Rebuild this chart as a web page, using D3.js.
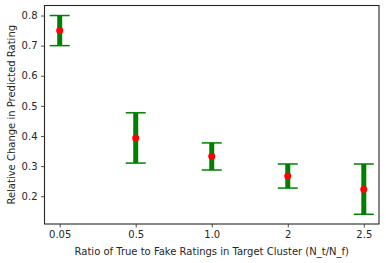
<!DOCTYPE html>
<html>
<head>
<meta charset="utf-8">
<script src="https://cdn.jsdelivr.net/npm/d3@7"></script>
<style>
  body { margin: 0; background: #fff; }
  text { font-family: "DejaVu Sans", sans-serif; fill: #262626; }
</style>
</head>
<body>
<div id="chart"></div>
<script>
const categories = ["0.05", "0.5", "1.0", "2", "2.5"];
const means = [0.75, 0.393, 0.333, 0.267, 0.223];
const lowers = [0.70, 0.31, 0.287, 0.227, 0.14];
const uppers = [0.80, 0.477, 0.377, 0.307, 0.307];
const yTicks = [0.2, 0.3, 0.4, 0.5, 0.6, 0.7, 0.8];

const data = categories.map((c, i) => ({ cat: c, mean: means[i], lo: lowers[i], hi: uppers[i] }));

const W = 386, H = 263;
const margin = { top: 5.5, right: 7, bottom: 39, left: 44.5 };
const width = W - margin.left - margin.right;
const height = H - margin.top - margin.bottom;

const svg = d3.select("#chart").append("svg")
    .attr("width", W)
    .attr("height", H);

const g = svg.append("g")
    .attr("transform", "translate(" + margin.left + "," + margin.top + ")");

// 4 intervals + 0.2 margin on each side (matplotlib default)
const unit = width / 4.4;
const xScale = d3.scalePoint()
    .domain(categories)
    .range([0.2 * unit, width - 0.2 * unit]);

const yScale = d3.scaleLinear()
    .domain([0.1077, 0.8333])
    .range([height, 0]);

// error bars
const bars = g.selectAll(".err")
    .data(data)
    .enter()
    .append("g")
    .attr("class", "err");

bars.append("line")
    .attr("x1", d => xScale(d.cat))
    .attr("x2", d => xScale(d.cat))
    .attr("y1", d => yScale(d.lo))
    .attr("y2", d => yScale(d.hi))
    .attr("stroke", "#008000")
    .attr("stroke-width", 5);

bars.selectAll(".cap")
    .data(d => [{ x: d.cat, v: d.lo }, { x: d.cat, v: d.hi }])
    .enter()
    .append("line")
    .attr("class", "cap")
    .attr("x1", d => xScale(d.x) - 10)
    .attr("x2", d => xScale(d.x) + 10)
    .attr("y1", d => yScale(d.v))
    .attr("y2", d => yScale(d.v))
    .attr("stroke", "#008000")
    .attr("stroke-width", 1.5);

bars.append("circle")
    .attr("cx", d => xScale(d.cat))
    .attr("cy", d => yScale(d.mean))
    .attr("r", 3.5)
    .attr("fill", "#ff0000");

// axes
const xAxis = g.append("g")
    .attr("transform", "translate(0," + height + ")")
    .call(d3.axisBottom(xScale).tickSize(3.5).tickPadding(3.5));

const yAxis = g.append("g")
    .call(d3.axisLeft(yScale).tickValues(yTicks).tickFormat(d3.format(".1f")).tickSize(3.5).tickPadding(3.5));

[xAxis, yAxis].forEach(a => {
    a.select(".domain").remove();
    a.selectAll("line").attr("stroke", "#262626").attr("stroke-width", 0.8);
    a.selectAll("text").style("font-size", "10px").attr("fill", "#262626");
});

// frame
g.append("rect")
    .attr("x", 0)
    .attr("y", 0)
    .attr("width", width)
    .attr("height", height)
    .attr("fill", "none")
    .attr("stroke", "#262626")
    .attr("stroke-width", 1.1);

// labels
svg.append("text")
    .attr("x", margin.left + width / 2)
    .attr("y", 255)
    .attr("text-anchor", "middle")
    .style("font-size", "10px")
    .text("Ratio of True to Fake Ratings in Target Cluster (N_t/N_f)");

svg.append("text")
    .attr("transform", "rotate(-90)")
    .attr("x", -(margin.top + height / 2))
    .attr("y", 15)
    .attr("text-anchor", "middle")
    .style("font-size", "10px")
    .text("Relative Change in Predicted Rating");
</script>
</body>
</html>
